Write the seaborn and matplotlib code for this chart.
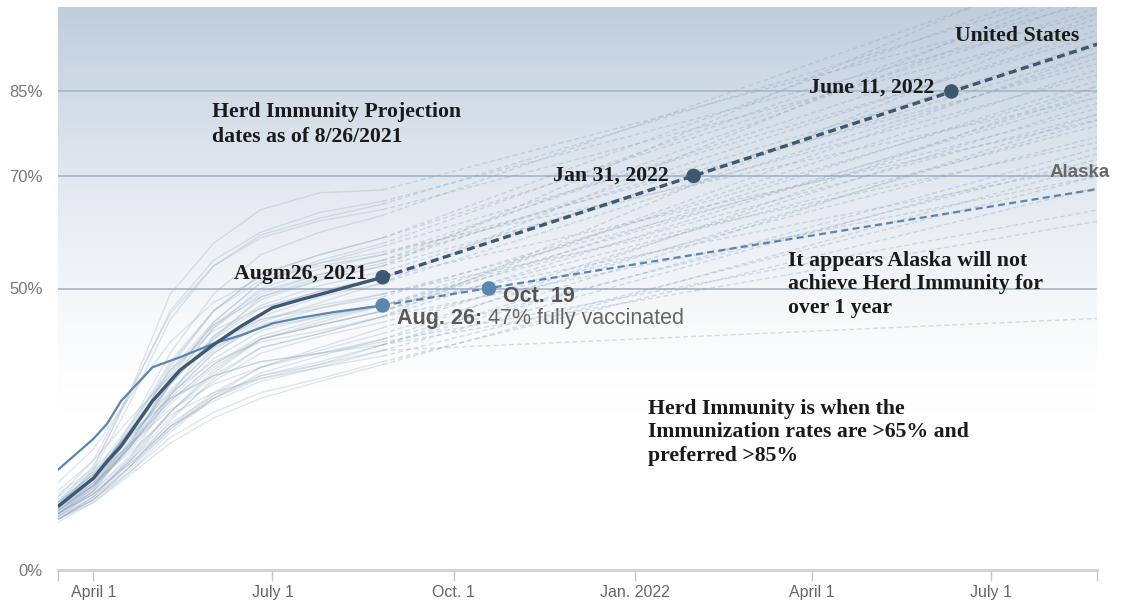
import numpy as np
import pandas as pd
import matplotlib
matplotlib.use("Agg")
import matplotlib.pyplot as plt
import seaborn as sns

# ---------------- data ----------------
hist_dates = ["2021-03-14", "2021-04-01", "2021-04-20", "2021-05-10",
              "2021-06-01", "2021-06-25", "2021-07-25", "2021-08-26"]
proj_end_date = "2022-08-25"

# state histories (% fully vaccinated) at hist_dates
VT = [11.0, 18.0, 32.0, 49.0, 58.0, 64.0, 67.0, 67.5]
ME = [12.0, 18.5, 31.5, 46.0, 55.0, 60.0, 63.5, 65.5]
MA = [11.5, 17.5, 30.0, 44.5, 54.0, 59.5, 62.5, 65.0]
CT = [13.0, 19.5, 32.0, 45.5, 54.0, 59.0, 62.0, 64.0]
RI = [10.5, 15.5, 26.0, 38.5, 49.0, 56.0, 60.0, 63.0]
NJ = [11.0, 16.0, 25.5, 37.0, 46.0, 52.5, 56.0, 59.0]
MD = [10.0, 14.5, 24.0, 36.0, 46.0, 52.5, 56.0, 59.0]
NY = [10.5, 15.0, 24.5, 35.5, 44.0, 51.0, 55.0, 58.0]
WA = [10.0, 14.0, 22.5, 34.0, 44.0, 51.0, 54.5, 57.5]
NM = [15.5, 21.5, 31.0, 40.5, 47.5, 52.0, 54.5, 56.5]
NH = [11.0, 16.5, 25.0, 36.5, 46.0, 51.5, 54.0, 56.0]
OR = [10.0, 14.5, 22.0, 33.0, 43.0, 50.0, 53.5, 56.0]
VA = [9.5, 14.0, 22.5, 33.5, 43.0, 49.0, 52.5, 55.0]
CO = [11.0, 15.5, 24.0, 34.5, 43.5, 49.5, 52.5, 55.0]
HI = [12.0, 17.0, 24.5, 33.0, 41.0, 48.5, 52.0, 54.5]
MN = [11.5, 16.5, 25.0, 35.0, 43.5, 48.5, 51.5, 54.0]
CA = [9.0, 13.0, 20.0, 31.0, 41.5, 48.0, 51.5, 54.0]
DE = [10.5, 15.0, 23.0, 33.0, 41.5, 47.0, 50.5, 53.0]
PA = [10.0, 15.0, 23.0, 33.0, 41.0, 46.5, 49.5, 52.0]
WI = [12.0, 17.0, 26.0, 35.5, 42.5, 46.5, 49.5, 52.0]
IL = [10.5, 14.5, 22.0, 31.5, 39.5, 45.0, 48.5, 51.0]
FL = [10.5, 15.0, 22.5, 31.0, 38.5, 44.0, 47.5, 51.0]
NE = [11.5, 16.0, 23.5, 32.0, 39.0, 44.5, 47.0, 49.0]
IA = [12.0, 16.5, 25.0, 34.0, 40.5, 44.5, 46.5, 49.0]
MI = [10.5, 15.0, 22.0, 31.0, 38.5, 43.5, 46.5, 48.5]
KY = [11.5, 16.0, 22.5, 30.0, 36.5, 41.0, 44.0, 47.0]
SD = [14.0, 19.5, 27.0, 34.5, 39.5, 43.0, 45.0, 47.0]
KS = [11.0, 15.5, 22.0, 30.0, 36.5, 41.5, 44.5, 47.0]
OH = [11.0, 15.0, 22.0, 30.5, 37.5, 42.5, 45.0, 47.0]
UT = [9.0, 13.0, 19.5, 28.0, 35.5, 41.0, 43.5, 46.0]
NV = [10.0, 14.0, 20.0, 28.0, 35.0, 41.0, 43.5, 46.0]
AZ = [11.0, 15.0, 21.5, 29.5, 36.0, 41.0, 43.5, 46.0]
TX = [9.0, 12.5, 18.5, 26.5, 34.0, 39.5, 42.0, 45.0]
MT = [12.5, 17.0, 24.0, 31.5, 37.0, 40.5, 42.5, 45.0]
NC = [10.0, 14.0, 20.5, 28.0, 34.5, 39.5, 42.0, 45.0]
IN = [9.5, 13.5, 19.5, 27.0, 33.5, 38.5, 41.5, 44.0]
MO = [9.0, 12.5, 18.5, 25.5, 31.5, 36.0, 39.5, 43.0]
SC = [9.0, 12.5, 18.0, 25.0, 31.0, 36.0, 39.0, 42.0]
OK = [12.0, 16.5, 22.5, 28.5, 33.0, 36.0, 38.5, 41.0]
GA = [8.5, 12.0, 17.5, 24.5, 30.5, 35.0, 38.0, 41.0]
WV = [13.0, 17.5, 24.0, 30.5, 34.5, 37.0, 38.5, 40.5]
ND = [13.5, 18.0, 24.5, 30.5, 34.5, 37.0, 38.5, 40.0]
TN = [9.5, 13.0, 18.5, 25.0, 30.5, 34.5, 37.0, 40.0]
AR = [10.0, 13.5, 19.0, 25.5, 30.5, 34.0, 36.5, 40.0]
LA = [10.0, 13.5, 19.0, 25.5, 30.0, 33.5, 36.0, 39.0]
ID = [10.0, 13.5, 19.5, 26.0, 31.0, 34.5, 36.5, 39.0]
WY = [11.5, 15.5, 21.0, 27.5, 31.5, 34.0, 36.0, 38.0]
AL = [9.0, 12.0, 17.0, 22.5, 27.0, 30.5, 33.5, 36.5]
MS = [9.5, 12.5, 17.5, 23.5, 28.0, 31.5, 34.0, 37.0]

state_names = ["VT", "ME", "MA", "CT", "RI", "NJ", "MD", "NY", "WA", "NM", "NH", "OR",
               "VA", "CO", "HI", "MN", "CA", "DE", "PA", "WI", "IL", "FL", "NE", "IA",
               "MI", "KY", "SD", "KS", "OH", "UT", "NV", "AZ", "TX", "MT", "NC", "IN",
               "MO", "SC", "OK", "GA", "WV", "ND", "TN", "AR", "LA", "ID", "WY", "AL", "MS"]
# projected value at proj_end_date (straight-line projection from Aug 26, 2021)
state_proj_end = [101, 99, 104, 97, 108, 100, 106, 103, 95, 84, 90, 98,
                  102, 93, 96, 88, 110, 92, 94, 80, 91, 105, 82, 76,
                  86, 89, 72, 84, 81, 87, 92, 79, 99, 70, 85, 77,
                  83, 80, 73, 86, 64, 62, 75, 81, 74, 44.7, 70, 72, 68]

us_dates = ["2021-03-14", "2021-04-01", "2021-04-08", "2021-04-15", "2021-05-01", "2021-05-15",
            "2021-06-01", "2021-06-15", "2021-07-01", "2021-07-15", "2021-08-01", "2021-08-26"]
us_values = [11.3, 16.3, 19.3, 22.0, 30.0, 35.5, 40.0, 43.3, 46.6, 48.0, 49.6, 52.0]
us_proj_end = 93.5
alaska_values = [17.8, 23.3, 26.0, 30.0, 36.0, 37.8, 40.2, 41.7, 43.8, 44.8, 45.8, 47.0]
alaska_proj_end = 67.7

us_milestone_dates = ["2021-08-26", "2022-01-31", "2022-06-11"]
us_milestone_values = [52.0, 70.0, 85.0]
ak_milestone_dates = ["2021-08-26", "2021-10-19"]
ak_milestone_values = [47.0, 50.0]

threshold_levels = [50, 70, 85]
ytick_values = [0, 50, 70, 85]
ytick_labels = ["0%", "50%", "70%", "85%"]
xtick_dates = ["2021-03-14", "2021-04-01", "2021-07-01", "2021-10-01", "2022-01-01",
               "2022-04-01", "2022-07-01", "2022-08-24"]
xtick_labels = ["", "April 1", "July 1", "Oct. 1", "Jan. 2022", "April 1", "July 1", ""]

# ---------------- style ----------------
sns.set_theme(style="white")
plt.rcParams["font.family"] = ["Liberation Sans", "DejaVu Sans"]
SERIF = ["Liberation Serif", "DejaVu Serif"]
SANS = ["Liberation Sans", "DejaVu Sans"]

W, H = 1124, 602
fig = plt.figure(figsize=(W / 100, H / 100), dpi=100)
rect = [58 / W, 1 - 570 / H, (1097 - 58) / W, (570 - 7) / H]


def px(x, y):
    return (x / W, 1 - y / H)


# gradient background (blue-grey at top fading to white)
bg = fig.add_axes(rect, zorder=0)
pct = np.linspace(100, 0, 500)
t = (np.clip((pct - 28) / 72.0, 0, 1) ** 1.4)[:, None]
top_rgb = np.array([191, 205, 220]) / 255.0
img = 1 - (1 - top_rgb)[None, :] * t
img = np.repeat(img[:, None, :], 2, axis=1)
bg.imshow(img, aspect="auto", extent=[0, 1, 0, 1], origin="upper", interpolation="bilinear")
bg.set_axis_off()

ax = fig.add_axes(rect, zorder=1)
ax.patch.set_alpha(0)

# threshold lines
for lvl in threshold_levels:
    ax.axhline(lvl, color="#a6bacd", lw=1.3, zorder=1)

# state data frames
hist_rows, proj_rows = [], []
state_lists = [globals()[n] for n in state_names]
for name, vals, end in zip(state_names, state_lists, state_proj_end):
    for d, v in zip(hist_dates, vals):
        hist_rows.append({"state": name, "date": pd.Timestamp(d), "value": v})
    proj_rows.append({"state": name, "date": pd.Timestamp(hist_dates[-1]), "value": vals[-1]})
    proj_rows.append({"state": name, "date": pd.Timestamp(proj_end_date), "value": end})
hist_df = pd.DataFrame(hist_rows)
proj_df = pd.DataFrame(proj_rows)

sns.lineplot(data=hist_df, x="date", y="value", units="state", estimator=None,
             color="#8ea7c0", alpha=0.28, lw=1.0, ax=ax, legend=False, zorder=2)
sns.lineplot(data=proj_df, x="date", y="value", units="state", estimator=None,
             color="#8ea7c0", alpha=0.36, lw=1.0, linestyle=(0, (3.5, 2.2)),
             ax=ax, legend=False, zorder=2)

# Alaska
ak_hist = pd.DataFrame({"date": pd.to_datetime(us_dates), "value": alaska_values})
ak_proj = pd.DataFrame({"date": pd.to_datetime([us_dates[-1], proj_end_date]),
                        "value": [alaska_values[-1], alaska_proj_end]})
sns.lineplot(data=ak_hist, x="date", y="value", color="#5b85ad", lw=1.6, ax=ax, zorder=3)
sns.lineplot(data=ak_proj, x="date", y="value", color="#5b85ad", lw=1.6,
             linestyle=(0, (3.2, 1.9)), ax=ax, zorder=3)

# United States
us_hist = pd.DataFrame({"date": pd.to_datetime(us_dates), "value": us_values})
us_proj = pd.DataFrame({"date": pd.to_datetime([us_dates[-1], proj_end_date]),
                        "value": [us_values[-1], us_proj_end]})
sns.lineplot(data=us_hist, x="date", y="value", color="#3e5872", lw=2.4, ax=ax, zorder=4)
sns.lineplot(data=us_proj, x="date", y="value", color="#3e5872", lw=2.4,
             linestyle=(0, (2.4, 1.4)), ax=ax, zorder=4)

# milestone dots
sns.scatterplot(x=pd.to_datetime(us_milestone_dates), y=us_milestone_values, s=110,
                color="#3d5770", edgecolor="none", ax=ax, zorder=6)
sns.scatterplot(x=pd.to_datetime(ak_milestone_dates), y=ak_milestone_values, s=110,
                color="#5a87b0", edgecolor="none", ax=ax, zorder=6)

# axes formatting
ax.set_xlim(pd.Timestamp("2021-03-14"), pd.Timestamp("2022-08-24"))
ax.set_ylim(0, 100)
ax.set_xlabel("")
ax.set_ylabel("")
ax.set_xticks(pd.to_datetime(xtick_dates))
ax.set_xticklabels(xtick_labels)
ax.set_yticks(ytick_values)
ax.set_yticklabels(ytick_labels)
for s in ["top", "right", "left"]:
    ax.spines[s].set_visible(False)
ax.spines["bottom"].set_color("#d0d0d0")
ax.spines["bottom"].set_linewidth(2)
ax.tick_params(axis="x", length=8, width=1, color="#c8c8c8", pad=3,
               labelsize=11.5, labelcolor="#666666", bottom=True)
ax.tick_params(axis="y", length=0, pad=11, labelsize=12, labelcolor="#777777")

# ---------------- annotations ----------------
serif_kw = dict(family=SERIF, fontweight="bold", fontsize=15.7, color="#1a1a1a",
                transform=fig.transFigure, zorder=10)
fig.text(*px(212, 102), "Herd Immunity Projection\ndates as of 8/26/2021",
         ha="left", va="top", linespacing=1.3, **serif_kw)
fig.text(*px(955, 26), "United States", ha="left", va="top", **serif_kw)
fig.text(*px(934, 78), "June 11, 2022", ha="right", va="top", **serif_kw)
fig.text(*px(669, 166), "Jan 31, 2022", ha="right", va="top", **serif_kw)
fig.text(*px(367, 264), "Augm26, 2021", ha="right", va="top", **serif_kw)
fig.text(*px(788, 251), "It appears Alaska will not\nachieve Herd Immunity for\nover 1 year",
         ha="left", va="top", linespacing=1.22, **serif_kw)
fig.text(*px(648, 399), "Herd Immunity is when the\nImmunization rates are >65% and\npreferred >85%",
         ha="left", va="top", linespacing=1.22, **serif_kw)

fig.text(*px(1050, 164), "Alaska", ha="left", va="top", family=SANS, fontweight="bold",
         fontsize=13.5, color="#6a6a6a", transform=fig.transFigure, zorder=10)
fig.text(*px(503, 286), "Oct. 19", ha="left", va="top", family=SANS, fontweight="bold",
         fontsize=15.5, color="#555555", transform=fig.transFigure, zorder=10)
t1 = fig.text(*px(397, 308), "Aug. 26:", ha="left", va="top", family=SANS, fontweight="bold",
              fontsize=15.5, color="#5a5a5a", transform=fig.transFigure, zorder=10)
ax.annotate("47% fully vaccinated", xy=(1, 0), xycoords=t1, xytext=(4, 0),
            textcoords="offset points", ha="left", va="bottom", family=SANS,
            fontsize=15.5, color="#666666", zorder=10, annotation_clip=False)

fig.savefig("out.png", dpi=100)
